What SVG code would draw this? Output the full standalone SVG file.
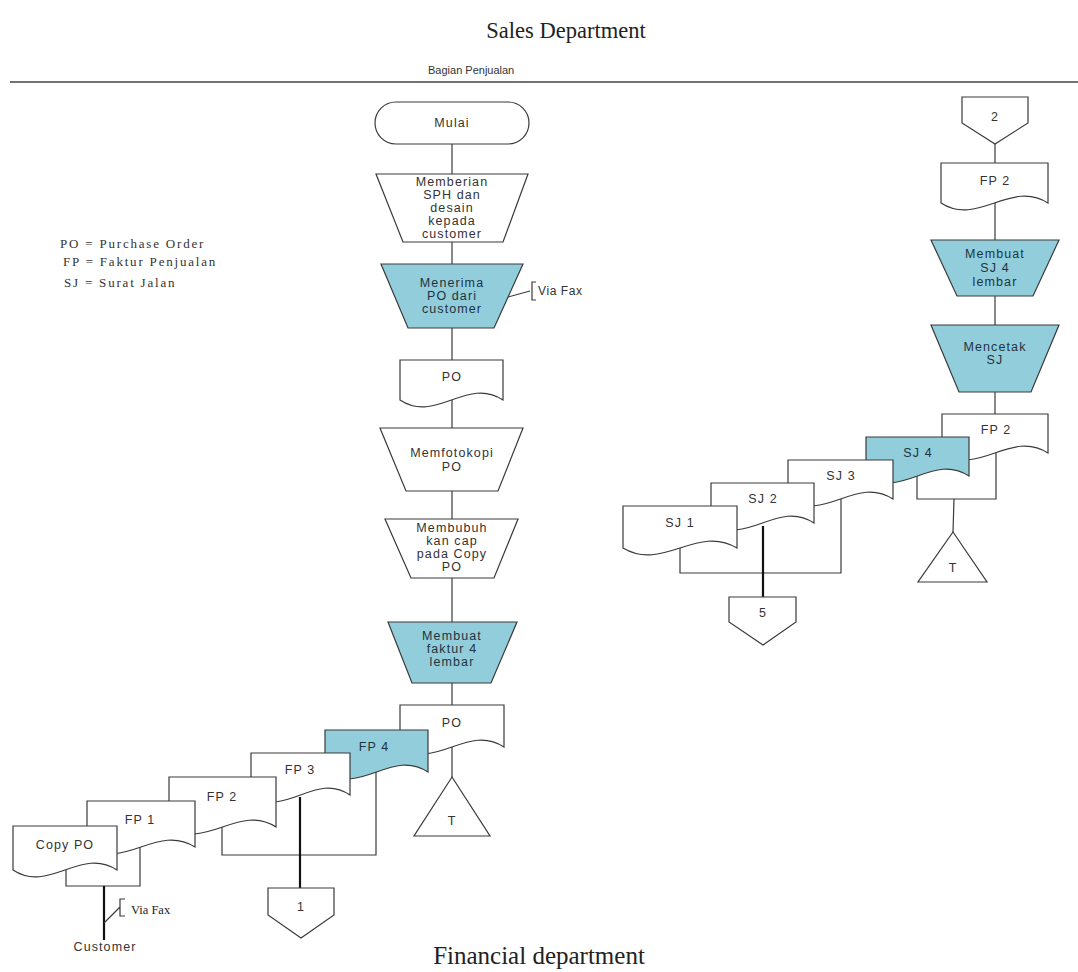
<svg xmlns="http://www.w3.org/2000/svg" width="1078" height="972" viewBox="0 0 1078 972">
  <style>
    .shape { fill: #ffffff; stroke: #3a3a3a; stroke-width: 1.2; }
    .proc { fill: #92cddc; stroke: #3a3a3a; stroke-width: 1.2; }
    .line { fill: none; stroke: #3a3a3a; stroke-width: 1.2; }
    .thick { fill: none; stroke: #111111; stroke-width: 2.2; }
    .lbl { font-family: "Liberation Sans", Arial, sans-serif; font-size: 12.5px; letter-spacing: 1.1px; fill: #333333; text-anchor: middle; }
    .lbl-dark { font-family: "Liberation Sans", Arial, sans-serif; font-size: 12.5px; letter-spacing: 1.1px; fill: #1d3440; text-anchor: middle; }
    .serif { font-family: "Liberation Serif", "Times New Roman", serif; fill: #222222; }
    .legend { font-family: "Liberation Serif", "Times New Roman", serif; font-size: 13px; fill: #333333; letter-spacing: 1.8px; }
  </style>

  <!-- titles and swimlane header -->
  <text class="serif" x="566" y="38" font-size="22.5" text-anchor="middle">Sales Department</text>
  <text x="428" y="74" font-family="Liberation Sans, Arial, sans-serif" font-size="11" fill="#333">Bagian Penjualan</text>
  <line x1="10" y1="82" x2="1078" y2="82" stroke="#444" stroke-width="1.5"/>
  <text class="serif" x="539" y="964" font-size="25" text-anchor="middle">Financial department</text>

  <!-- legend -->
  <g id="legend">
    <text class="legend" x="60" y="248">PO = Purchase Order</text>
    <text class="legend" x="63" y="266">FP = Faktur Penjualan</text>
    <text class="legend" x="64" y="287">SJ = Surat Jalan</text>
  </g>

  <!-- connectors -->
  <g id="connectors">
    <line class="line" x1="452" y1="144" x2="452" y2="777"/>
    <line class="line" x1="995" y1="144" x2="995" y2="414"/>
    <!-- grouping brackets under document stacks -->
    <path class="line" d="M66 868 V886 H140 V845"/>
    <path class="line" d="M222 826 V855 H376 V770"/>
    <path class="line" d="M680 546 V573 H841 V497"/>
    <path class="line" d="M917 476 V499 H996 V451"/>
    <line class="line" x1="954" y1="499" x2="953" y2="532"/>
    <!-- distribution lines -->
    <line class="thick" x1="300" y1="797" x2="300" y2="888"/>
    <line class="thick" x1="763" y1="526" x2="763" y2="597"/>
    <line class="thick" x1="104" y1="886" x2="104" y2="940"/>
    <!-- fax annotations -->
    <path class="line" d="M508 297 L530 291 M536 282 H532 V300 H536"/>
    <path class="line" d="M104 923 L120 907 M125 899 H120 V916 H125"/>
  </g>

  <!-- left column -->
  <g id="mulai">
    <rect class="shape" x="375" y="102" width="154" height="42" rx="21"/>
    <text class="lbl" x="452" y="127">Mulai</text>
  </g>
  <g id="memberian-sph">
    <path class="shape" d="M376 174 H528 L503 242 H403 Z"/>
    <text class="lbl" x="452" y="186">Memberian</text>
    <text class="lbl" x="452" y="199">SPH dan</text>
    <text class="lbl" x="452" y="212">desain</text>
    <text class="lbl" x="452" y="225">kepada</text>
    <text class="lbl" x="452" y="238">customer</text>
  </g>
  <g id="menerima-po">
    <path class="proc" d="M381 264 H523 L494 328 H408 Z"/>
    <text class="lbl-dark" x="452" y="287">Menerima</text>
    <text class="lbl-dark" x="452" y="300">PO dari</text>
    <text class="lbl-dark" x="452" y="313">customer</text>
    <text x="538" y="295" font-family="Liberation Sans, Arial, sans-serif" font-size="12" letter-spacing="0.6" fill="#333">Via Fax</text>
  </g>
  <g id="doc-po">
    <path class="shape" d="M400 360 H503 V400 C467 376 436 424 400 400 Z"/>
    <text class="lbl" x="452" y="381">PO</text>
  </g>
  <g id="memfotokopi">
    <path class="shape" d="M380 428 H523 L498 491 H406 Z"/>
    <text class="lbl" x="452" y="457">Memfotokopi</text>
    <text class="lbl" x="452" y="471">PO</text>
  </g>
  <g id="membubuh-cap">
    <path class="shape" d="M385 519 H518 L494 578 H411 Z"/>
    <text class="lbl" x="452" y="532">Membubuh</text>
    <text class="lbl" x="452" y="545">kan cap</text>
    <text class="lbl" x="452" y="558">pada Copy</text>
    <text class="lbl" x="452" y="571">PO</text>
  </g>
  <g id="membuat-faktur">
    <path class="proc" d="M388 622 H517 L491 683 H412 Z"/>
    <text class="lbl-dark" x="452" y="640">Membuat</text>
    <text class="lbl-dark" x="452" y="653">faktur 4</text>
    <text class="lbl-dark" x="452" y="666">lembar</text>
  </g>

  <!-- invoice stack, back to front -->
  <g id="doc-po-file">
    <path class="shape" d="M400 705 H504 V747 C468 723 436 771 400 747 Z"/>
    <text class="lbl" x="452" y="727">PO</text>
  </g>
  <g id="doc-fp4">
    <path class="proc" d="M325 730 H428 V772 C392 748 361 796 325 772 Z"/>
    <text class="lbl-dark" x="374" y="751">FP 4</text>
  </g>
  <g id="doc-fp3">
    <path class="shape" d="M251 753 H350 V795 C315 771 286 819 251 795 Z"/>
    <text class="lbl" x="300" y="774">FP 3</text>
  </g>
  <g id="doc-fp2">
    <path class="shape" d="M169 777 H276 V827 C239 803 206 851 169 827 Z"/>
    <text class="lbl" x="222" y="801">FP 2</text>
  </g>
  <g id="doc-fp1">
    <path class="shape" d="M87 801 H195 V847 C157 823 125 871 87 847 Z"/>
    <text class="lbl" x="140" y="824">FP 1</text>
  </g>
  <g id="doc-copy-po">
    <path class="shape" d="M13 826 H117 V870 C81 846 49 894 13 870 Z"/>
    <text class="lbl" x="65" y="849">Copy PO</text>
  </g>
  <g id="customer">
    <text class="lbl" x="105" y="951">Customer</text>
    <text class="serif" x="131" y="914" font-size="12.5">Via Fax</text>
  </g>
  <g id="offpage-1">
    <path class="shape" d="M268 888 H334 V915 L301 938 L268 915 Z"/>
    <text class="lbl" x="301" y="911">1</text>
  </g>
  <g id="file-t-left">
    <path class="shape" d="M452 777 L490 836 L414 836 Z"/>
    <text class="lbl" x="452" y="825">T</text>
  </g>

  <!-- right column -->
  <g id="offpage-2">
    <path class="shape" d="M962 97 H1028 V123 L995 144 L962 123 Z"/>
    <text class="lbl" x="995" y="121">2</text>
  </g>
  <g id="doc-fp2-in">
    <path class="shape" d="M941 163 H1048 V203 C1011 179 978 227 941 203 Z"/>
    <text class="lbl" x="995" y="185">FP 2</text>
  </g>
  <g id="membuat-sj">
    <path class="proc" d="M931 240 H1059 L1033 296 H957 Z"/>
    <text class="lbl-dark" x="995" y="258">Membuat</text>
    <text class="lbl-dark" x="995" y="272">SJ 4</text>
    <text class="lbl-dark" x="995" y="286">lembar</text>
  </g>
  <g id="mencetak-sj">
    <path class="proc" d="M931 325 H1059 L1031 392 H959 Z"/>
    <text class="lbl-dark" x="995" y="351">Mencetak</text>
    <text class="lbl-dark" x="995" y="364">SJ</text>
  </g>

  <!-- delivery note stack, back to front -->
  <g id="doc-fp2-file">
    <path class="shape" d="M942 414 H1048 V453 C1011 429 979 477 942 453 Z"/>
    <text class="lbl" x="996" y="434">FP 2</text>
  </g>
  <g id="doc-sj4">
    <path class="proc" d="M866 437 H969 V476 C933 452 902 500 866 476 Z"/>
    <text class="lbl-dark" x="918" y="457">SJ 4</text>
  </g>
  <g id="doc-sj3">
    <path class="shape" d="M788 460 H893 V499 C856 475 825 523 788 499 Z"/>
    <text class="lbl" x="841" y="480">SJ 3</text>
  </g>
  <g id="doc-sj2">
    <path class="shape" d="M711 483 H814 V523 C778 499 747 547 711 523 Z"/>
    <text class="lbl" x="763" y="503">SJ 2</text>
  </g>
  <g id="doc-sj1">
    <path class="shape" d="M623 506 H737 V548 C697 524 663 572 623 548 Z"/>
    <text class="lbl" x="680" y="527">SJ 1</text>
  </g>
  <g id="offpage-5">
    <path class="shape" d="M729 597 H796 V622 L763 645 L729 622 Z"/>
    <text class="lbl" x="763" y="617">5</text>
  </g>
  <g id="file-t-right">
    <path class="shape" d="M953 532 L987 582 L918 582 Z"/>
    <text class="lbl" x="953" y="572">T</text>
  </g>
</svg>
